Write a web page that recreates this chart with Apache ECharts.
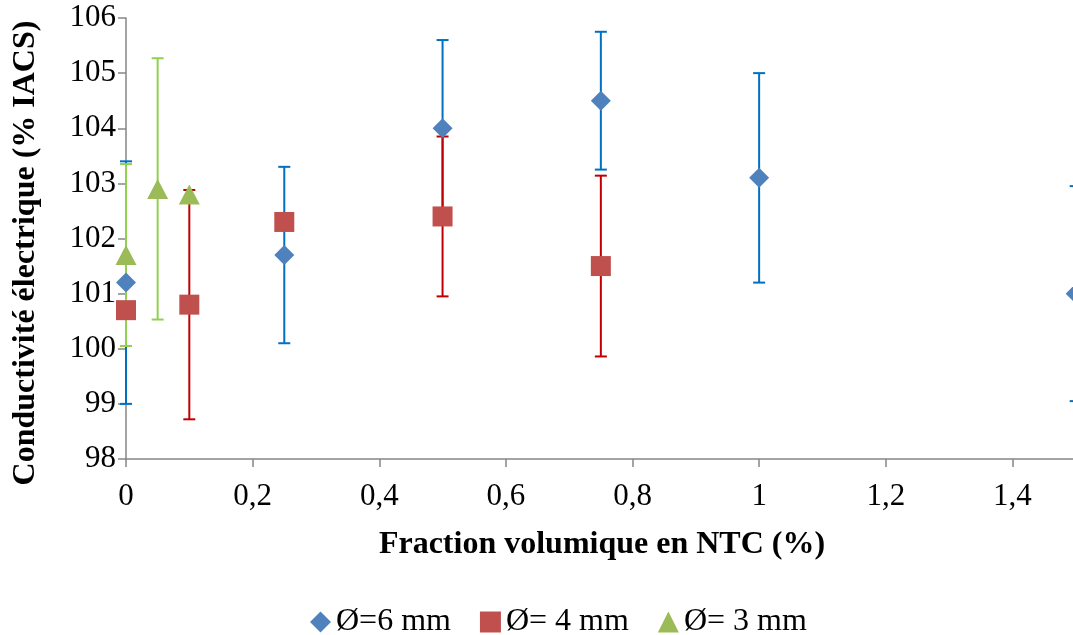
<!DOCTYPE html>
<html>
<head>
<meta charset="utf-8">
<script src="https://cdn.jsdelivr.net/npm/echarts@6/dist/echarts.min.js"></script>
<style>html,body{margin:0;padding:0;background:#fff;}#c{width:1073px;height:635px;}</style>
</head>
<body>
<div id="c"></div>
<script>
// Data
const seriesNames = ['Ø=6 mm', 'Ø= 4 mm', 'Ø= 3 mm'];
const x6 = [0, 0.25, 0.5, 0.75, 1, 1.5];
const y6 = [101.2, 101.7, 104.0, 104.5, 103.1, 101.0];
const e6 = [2.2, 1.6, 1.6, 1.25, 1.9, 1.95];
const x4 = [0, 0.1, 0.25, 0.5, 0.75];
const y4 = [100.7, 100.8, 102.3, 102.4, 101.5];
const e4 = [0, 2.08, 0, 1.45, 1.64];
const x3 = [0, 0.05, 0.1];
const y3 = [101.7, 102.9, 102.8];
const e3 = [1.65, 2.37, 0];
const xTitle = 'Fraction volumique en NTC (%)';
const yTitle = 'Conductivité électrique (% IACS)';

const FONT = 'Liberation Serif';
const markerColors = ['#4F81BD', '#C0504D', '#9BBB59'];
const errColors = ['#0070C0', '#C00000', '#92D050'];
const symbols = ['diamond', 'rect', 'triangle'];
const xs = [x6, x4, x3], ys = [y6, y4, y3], es = [e6, e4, e3];

function errSeries(i) {
  const data = xs[i].map((x, k) => [x, ys[i][k] - es[i][k], ys[i][k] + es[i][k], es[i][k]]);
  return {
    type: 'custom',
    z: 2 + i * 0.1,
    silent: true,
    clip: false,
    data: data,
    encode: { x: 0, y: [1, 2] },
    renderItem: function (params, api) {
      if (api.value(3) <= 0) return null;
      const x = api.value(0);
      const top = api.coord([x, api.value(2)]);
      const bot = api.coord([x, api.value(1)]);
      const hw = 6;
      const st = { stroke: errColors[i], lineWidth: 2 };
      return {
        type: 'group',
        children: [
          { type: 'line', shape: { x1: top[0], y1: top[1], x2: bot[0], y2: bot[1] }, style: st },
          { type: 'line', shape: { x1: top[0] - hw, y1: top[1], x2: top[0] + hw, y2: top[1] }, style: st },
          { type: 'line', shape: { x1: bot[0] - hw, y1: bot[1], x2: bot[0] + hw, y2: bot[1] }, style: st }
        ]
      };
    }
  };
}

function ptSeries(i) {
  return {
    name: seriesNames[i],
    type: 'scatter',
    z: 5,
    clip: false,
    symbol: symbols[i],
    symbolSize: i === 2 ? [21, 20] : 20,
    itemStyle: { color: markerColors[i], opacity: 1 },
    data: xs[i].map((x, k) => [x, ys[i][k]])
  };
}

const chart = echarts.init(document.getElementById('c'), null, { renderer: 'canvas' });
chart.setOption({
  animation: false,
  backgroundColor: '#fff',
  textStyle: { fontFamily: FONT },
  grid: { left: 126, top: 18, width: 1013, height: 441, containLabel: false, outerBoundsMode: 'none' },
  xAxis: {
    type: 'value', min: 0, max: 1.6, interval: 0.2,
    axisLine: { show: true, lineStyle: { color: '#868686', width: 1.5 } },
    axisTick: { show: true, length: 8, lineStyle: { color: '#868686', width: 1.5 } },
    splitLine: { show: false },
    axisLabel: { color: '#000', fontSize: 31, fontFamily: FONT, margin: 22,
      formatter: v => String(Math.round(v * 10) / 10).replace('.', ',') }
  },
  yAxis: {
    type: 'value', min: 98, max: 106, interval: 1,
    axisLine: { show: true, lineStyle: { color: '#868686', width: 1.5 } },
    axisTick: { show: true, length: 8, lineStyle: { color: '#868686', width: 1.5 } },
    splitLine: { show: false },
    axisLabel: { color: '#000', fontSize: 31, fontFamily: FONT, margin: 10 }
  },
  legend: {
    data: seriesNames.map((n, i) => ({ name: n, icon: symbols[i] })),
    left: 305, top: 601,
    itemWidth: 21, itemHeight: 21, itemGap: 29,
    textStyle: { fontSize: 32, fontFamily: FONT, color: '#000' }
  },
  graphic: [
    { type: 'text', x: 602, y: 545,
      style: { text: xTitle, font: 'bold 32px "Liberation Serif"', fill: '#000', textAlign: 'center', textVerticalAlign: 'middle' } },
    { type: 'text', x: 26, y: 253, rotation: Math.PI / 2,
      style: { text: yTitle, font: 'bold 32px "Liberation Serif"', fill: '#000', textAlign: 'center', textVerticalAlign: 'middle' } }
  ],
  series: [errSeries(0), errSeries(1), errSeries(2), ptSeries(0), ptSeries(1), ptSeries(2)]
});
</script>
</body>
</html>
